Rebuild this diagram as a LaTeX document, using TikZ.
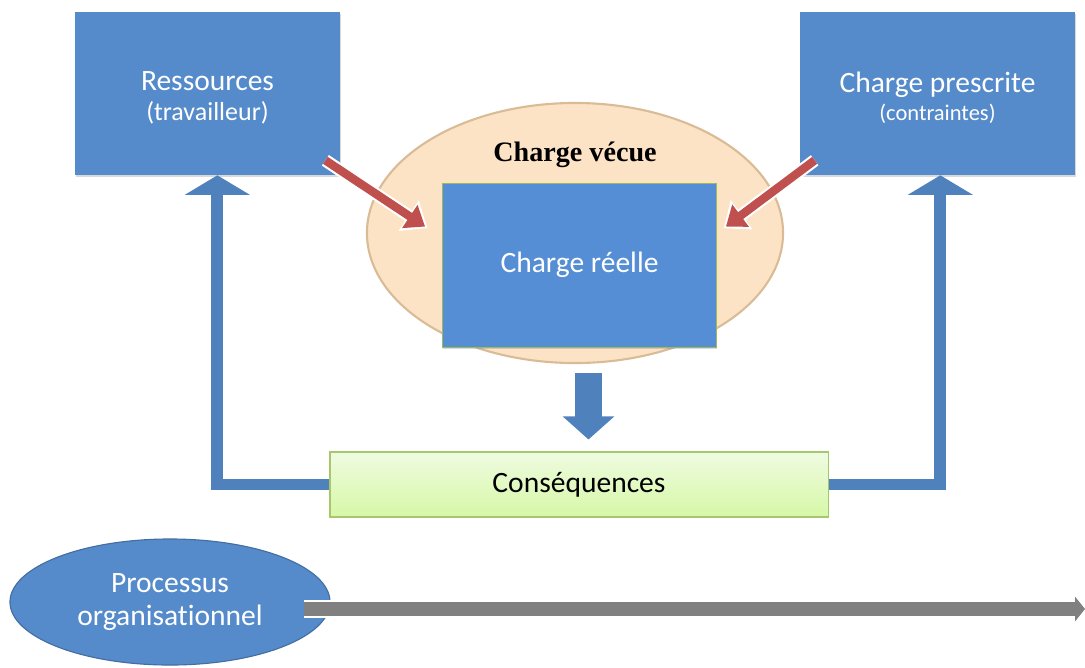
\documentclass[tikz,border=0pt]{standalone}
\usepackage{fontspec}
\setmainfont{Carlito}[Ligatures=NoCommon]
\newfontfamily\timesfont{Liberation Serif}
\usetikzlibrary{arrows.meta,shapes.geometric,calc,shadows}
\definecolor{boxblue}{HTML}{558BCB}
\definecolor{reelblue}{HTML}{558ED5}
\definecolor{reeledge}{HTML}{9BBB59}
\definecolor{linkblue}{HTML}{4F81BD}
\definecolor{arrowred}{HTML}{C0504D}
\definecolor{peach}{HTML}{FDE3C6}
\definecolor{peachedge}{HTML}{D9BC96}
\definecolor{consvert1}{HTML}{EFFBE1}
\definecolor{consvert2}{HTML}{D6F8A6}
\definecolor{consedge}{HTML}{A8C66E}
\definecolor{timegray}{HTML}{808080}
\tikzset{
  bluebox/.style={rectangle, fill=boxblue, text=white, align=center, inner sep=0pt,
    drop shadow={shadow xshift=.5pt, shadow yshift=-1.5pt, opacity=.3}},
  mainfont/.style={font=\fontsize{21}{24}\selectfont},
  loopblue/.style={draw=linkblue, line width=8.5pt, line join=miter,
    -{Triangle[width=46pt,length=14pt]}},
  downarrow/.style={draw=linkblue, line width=19pt, -{Triangle[width=36pt,length=16.5pt]}},
  redarrow/.style={draw=arrowred, line width=6pt, -{Triangle[width=19pt,length=13pt]},
    preaction={draw=white, line width=9pt, -{Triangle[width=25pt,length=16pt]}, shorten >=-2pt}},
  grayarrow/.style={draw=timegray, line width=10.5pt, -{Triangle[width=17pt,length=7pt]},
    preaction={draw=white, line width=13pt, -{Triangle[width=20pt,length=8pt]}}}
}
\begin{document}
\begin{tikzpicture}[x=0.025cm,y=-0.025cm]
\useasboundingbox (0,0) rectangle (1085,667);

\node[ellipse, fill=peach, draw=peachedge, line width=1.5pt, minimum width=10.4cm, minimum height=6.5cm] (vecue) at (575,233) {};
\node[font=\timesfont\bfseries\fontsize{20}{24}\selectfont] (vecuetitre) at (575,155) {Charge vécue};
\node[bluebox, mainfont, fill=reelblue, draw=reeledge, line width=.6pt, minimum width=6.85cm, minimum height=4.1cm] (res) at (579.5,265) {Charge réelle};
\node[bluebox, mainfont, minimum width=6.625cm, minimum height=4.075cm] (ress) at (207.5,93.5)
  {\rule{0pt}{20pt}Ressources\\[-3pt]{\fontsize{18.5}{20}\selectfont (travailleur)}};
\node[bluebox, mainfont, minimum width=6.875cm, minimum height=4.075cm] (presc) at (937.5,93.5)
  {\rule{0pt}{21pt}Charge prescrite\\[-4pt]{\fontsize{16}{18}\selectfont (contraintes)}};

\node[rectangle, mainfont, top color=consvert1, bottom color=consvert2, draw=consedge, line width=.8pt,
  minimum width=12.45cm, minimum height=1.625cm] (cons) at (579,484.5) {Conséquences};

\node[ellipse, fill=boxblue, draw=linkblue!85!black, line width=.8pt, text=white, align=center,
  font=\fontsize{21}{23}\selectfont, minimum width=8cm, minimum height=3.15cm, inner sep=0pt] (proc) at (170,602)
  {Processus\\organisationnel};

\coordinate (tipg) at ($(res.north west)+(-17,44)$);
\coordinate (tipd) at ($(res.north east)+(9,44)$);
\draw[redarrow] ($(ress.south east)+(-15,-15)$) -- (tipg);
\draw[redarrow] ($(presc.south west)+(15,-15)$) -- (tipd);

\coordinate (dtop) at ([xshift=6.4pt]res.south);
\draw[downarrow, shorten <=18.5pt, shorten >=8.5pt] (dtop) -- (dtop |- cons.north);

\draw[loopblue] (cons.west) -| ([xshift=7pt]ress.south);
\draw[loopblue] (cons.east) -| ([xshift=2pt]presc.south);

\coordinate (fin) at (1085,609);
\draw[grayarrow] ($(proc.east)+(-27,7)$) -- (fin);
\end{tikzpicture}
\end{document}
